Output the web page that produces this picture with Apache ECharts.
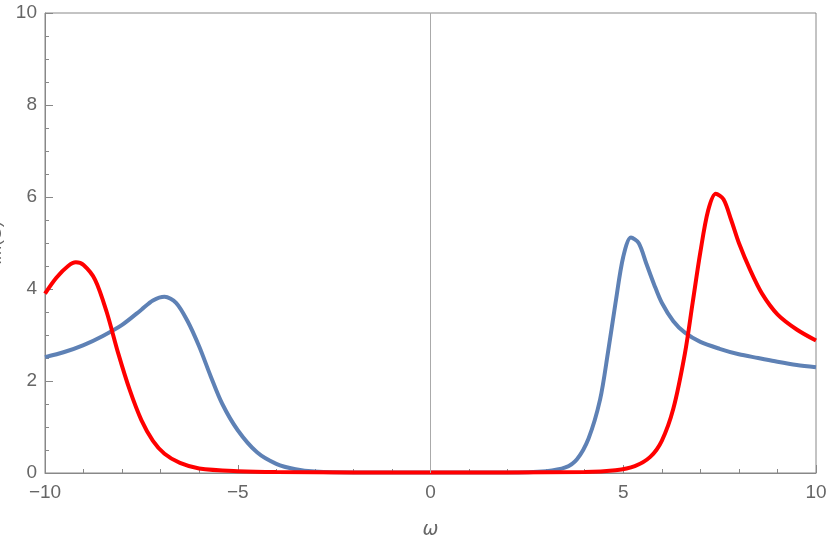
<!DOCTYPE html>
<html>
<head>
<meta charset="utf-8">
<script src="https://cdn.jsdelivr.net/npm/echarts@6/dist/echarts.min.js"></script>
<style>html,body{margin:0;padding:0;background:#fff}</style>
</head>
<body>
<div id="chart" style="width:830px;height:547px;"></div>
<script>
// blue curve: [omega, Im(G)]
var blueData = [[-10,2.52],[-9.5,2.63],[-9,2.78],[-8.5,2.98],[-8,3.22],[-7.5,3.55],[-7.2,3.75],[-6.9,3.83],[-6.6,3.7],[-6.3,3.3],[-6,2.75],[-5.7,2.1],[-5.4,1.5],[-5,0.93],[-4.5,0.45],[-4,0.2],[-3.5,0.08],[-3,0.03],[-2,0.01],[0,0.01],[2,0.01],[3,0.04],[3.5,0.12],[3.8,0.3],[4.1,0.75],[4.4,1.6],[4.6,2.6],[4.8,3.7],[5,4.7],[5.2,5.12],[5.4,5.0],[5.6,4.55],[5.8,4.1],[6,3.7],[6.3,3.3],[6.6,3.05],[7,2.85],[7.5,2.7],[8,2.58],[8.5,2.5],[9,2.42],[9.5,2.35],[10,2.3]];
// red curve
var redData = [[-10,3.9],[-9.7,4.25],[-9.4,4.5],[-9.2,4.58],[-9,4.52],[-8.7,4.2],[-8.4,3.5],[-8.1,2.6],[-7.8,1.8],[-7.5,1.15],[-7.2,0.7],[-6.9,0.42],[-6.5,0.22],[-6,0.1],[-5,0.04],[-4,0.02],[0,0.01],[4,0.02],[4.8,0.06],[5.3,0.15],[5.7,0.35],[6,0.7],[6.3,1.4],[6.6,2.6],[6.8,3.7],[7,4.8],[7.2,5.7],[7.4,6.07],[7.6,5.95],[7.8,5.5],[8,5.0],[8.3,4.4],[8.6,3.9],[9,3.45],[9.5,3.12],[10,2.88]];
var axisColor = '#666';
var chart = echarts.init(document.getElementById('chart'));
chart.setOption({
  animation: false,
  grid: {left: 45, right: 14, top: 13, bottom: 74, containLabel: false, outerBoundsMode: 'none',
         show: true, borderColor: '#888', borderWidth: 1},
  xAxis: {
    type: 'value', min: -10, max: 10, interval: 5,
    name: 'ω', nameLocation: 'middle', nameGap: 48,
    nameTextStyle: {color: axisColor, fontSize: 19, fontStyle: 'italic', fontFamily: 'DejaVu Sans'},
    axisLine: {onZero: false, lineStyle: {color: '#888'}},
    axisTick: {inside: true, length: 8, lineStyle: {color: '#888'}},
    minorTick: {show: true, splitNumber: 5, length: 4, lineStyle: {color: '#888'}},
    axisLabel: {color: axisColor, fontSize: 19, fontFamily: 'Liberation Sans', margin: 10,
      formatter: function (v) { return v < 0 ? '\u2212' + (-v) : '' + v; }},
    splitLine: {show: false}
  },
  yAxis: {
    type: 'value', min: 0, max: 10, interval: 2,
    name: 'Im(G)', nameLocation: 'middle', nameGap: 30,
    nameTextStyle: {color: axisColor, fontSize: 17, fontFamily: 'Liberation Sans'},
    axisLine: {show: true, onZero: false, lineStyle: {color: '#888'}},
    axisTick: {inside: true, length: 8, lineStyle: {color: '#888'}},
    minorTick: {show: true, splitNumber: 4, length: 4, lineStyle: {color: '#888'}},
    axisLabel: {color: axisColor, fontSize: 19, fontFamily: 'Liberation Sans', margin: 8},
    splitLine: {show: false}
  },
  series: [
    {type: 'line', data: blueData, smooth: 0.3, showSymbol: false,
     lineStyle: {color: '#5e81b5', width: 4},
     markLine: {silent: true, symbol: 'none', label: {show: false},
       lineStyle: {color: '#aaa', width: 1, type: 'solid'}, data: [{xAxis: 0}]}},
    {type: 'line', data: redData, smooth: 0.3, showSymbol: false,
     lineStyle: {color: '#ff0000', width: 4}}
  ]
});
</script>
</body>
</html>
